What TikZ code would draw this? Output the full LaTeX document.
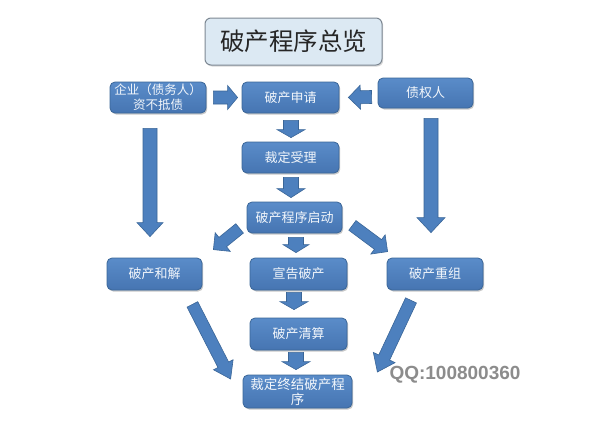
\documentclass[tikz,border=0pt]{standalone}
\usepackage{fontspec}
\setmainfont{Noto Sans CJK SC}
\newfontfamily\qqfont{Liberation Sans}
\usetikzlibrary{calc,shadows}
\definecolor{boxtop}{HTML}{5A8CC9}
\definecolor{boxbot}{HTML}{4675B2}
\definecolor{boxedge}{HTML}{3A6698}
\definecolor{arrowblue}{HTML}{4D80BE}
\definecolor{titlefill}{HTML}{DCE9F3}
\definecolor{titleedge}{HTML}{7D8893}
\definecolor{qqgray}{HTML}{8C8C8C}
\tikzset{
  bluebox/.style={draw=boxedge, line width=0.8pt, rounded corners=5pt,
    top color=boxtop, bottom color=boxbot, text=white!92!boxtop,
    font=\fontsize{13}{15}\selectfont, inner sep=1pt, align=center,
    minimum height=31pt,
    drop shadow={shadow xshift=1.2pt, shadow yshift=-1.5pt, opacity=0.3, fill=black!70}},
  titlebox/.style={draw=titleedge, line width=1pt, rounded corners=6pt,
    fill=titlefill, text=black!85, font=\fontsize{24.5}{26}\selectfont,
    minimum width=177pt, minimum height=47pt, inner sep=2pt,
    drop shadow={shadow xshift=1.2pt, shadow yshift=-1.5pt, opacity=0.25, fill=black!60}},
  arrowsty/.style={fill=arrowblue, draw=boxedge, line width=0.6pt, line join=miter}
}
% block arrow: #1 start, #2 tip, #3 shaft half width, #4 head half width, #5 head length
\newcommand\barrow[5]{%
  \coordinate (bah) at ($(#2)!#5!(#1)$);
  \filldraw[arrowsty] ($(#1)!#3!90:(#2)$) -- ($(bah)!#3!90:(#2)$) -- ($(bah)!#4!90:(#2)$)
    -- (#2) -- ($(bah)!#4!-90:(#2)$) -- ($(bah)!#3!-90:(#2)$) -- ($(#1)!#3!-90:(#2)$) -- cycle;
}
\begin{document}
\begin{tikzpicture}[x=1pt,y=-1pt]
\useasboundingbox[fill=white] (0,0) rectangle (594,423);

\node[titlebox] (title) at (293.5,41.5) {破产程序总览};

\node[bluebox, minimum width=96pt, font=\fontsize{12.5}{15}\selectfont] (qy) at (158,97.5) {企业（债务人）\\资不抵债};
\node[bluebox, minimum width=97pt] (sq) at (290.5,97.5) {破产申请};
\node[bluebox, minimum width=95pt, minimum height=30pt] (zq) at (425.5,93) {债权人};
\node[bluebox, minimum width=97pt] (sl) at (290.5,157.5) {裁定受理};
\node[bluebox, minimum width=95pt] (qd) at (294.5,217.5) {破产程序启动};
\node[bluebox, minimum width=95pt, minimum height=32pt] (hj) at (154.5,274) {破产和解};
\node[bluebox, minimum width=97pt, minimum height=32pt] (xg) at (298.5,274) {宣告破产};
\node[bluebox, minimum width=96pt, minimum height=32pt] (cz) at (435,274) {破产重组};
\node[bluebox, minimum width=97pt, minimum height=32pt] (qs) at (298.5,334) {破产清算};
\node[bluebox, minimum width=109pt, minimum height=33pt, font=\fontsize{13.5}{15}\selectfont] (zj) at (297.5,391.5) {裁定终结破产程\\序};

\node[text=qqgray, font=\qqfont\bfseries\fontsize{19}{21}\selectfont, inner sep=0pt] (qq) at (455,375) {QQ:100800360};

% arrow end points
\coordinate (a1s) at ($(qy.east)+(7,0)$);
\coordinate (a1e) at ($(sq.west)+(-4,0)$);
\coordinate (a2s) at ($(zq.west)+(-6,4)$);
\coordinate (a2e) at ($(sq.east)+(9,0)$);
\coordinate (a3s) at ($(sq.south)+(0.5,7)$);
\coordinate (a3e) at ($(sl.north)+(0.5,-4)$);
\coordinate (a4s) at ($(sl.south)+(0.5,4)$);
\coordinate (a4e) at ($(qd.north)+(-3.5,-4)$);
\coordinate (a5s) at ($(qy.south)+(-8,15)$);
\coordinate (a5e) at ($(hj.north)+(-4.5,-21)$);
\coordinate (a6s) at ($(zq.south)+(5.5,10)$);
\coordinate (a6e) at ($(cz.north)+(-4,-25)$);
\coordinate (a7s) at ($(qd.south west)+(-7,-5)$);
\coordinate (a7e) at ($(hj.north east)+(11,-8)$);
\coordinate (a8s) at ($(qd.south)+(1.5,4)$);
\coordinate (a8e) at ($(xg.north)+(-2.5,-5)$);
\coordinate (a9s) at ($(qd.south east)+(10,-8)$);
\coordinate (a9e) at ($(cz.north west)+(1,-6)$);
\coordinate (a10s) at ($(xg.south)+(-4.5,2)$);
\coordinate (a10e) at ($(qs.north)+(-4.5,-8)$);
\coordinate (a11s) at ($(qs.south)+(-2.5,2)$);
\coordinate (a11e) at ($(zj.north)+(-1.5,-5)$);
\coordinate (a12s) at ($(hj.south east)+(-10,14)$);
\coordinate (a12e) at ($(zj.west)+(-12,-12.5)$);
\coordinate (a13s) at ($(cz.south)+(-24,10)$);
\coordinate (a13e) at ($(zj.east)+(25,-19.5)$);

\barrow{a1s}{a1e}{6.5pt}{12pt}{10pt}
\barrow{a2s}{a2e}{6.5pt}{12pt}{12pt}
\barrow{a3s}{a3e}{7.5pt}{14pt}{8pt}
\barrow{a4s}{a4e}{7.5pt}{14pt}{9pt}
\barrow{a5s}{a5e}{7pt}{13pt}{14pt}
\barrow{a6s}{a6e}{7pt}{14pt}{15pt}
\barrow{a7s}{a7e}{6pt}{12pt}{12pt}
\barrow{a8s}{a8e}{7.5pt}{13pt}{8pt}
\barrow{a9s}{a9e}{6pt}{12pt}{12pt}
\barrow{a10s}{a10e}{7.5pt}{14pt}{8pt}
\barrow{a11s}{a11e}{7.5pt}{14pt}{8pt}
\barrow{a12s}{a12e}{6pt}{11pt}{16pt}
\barrow{a13s}{a13e}{6pt}{12pt}{16pt}
\end{tikzpicture}
\end{document}
